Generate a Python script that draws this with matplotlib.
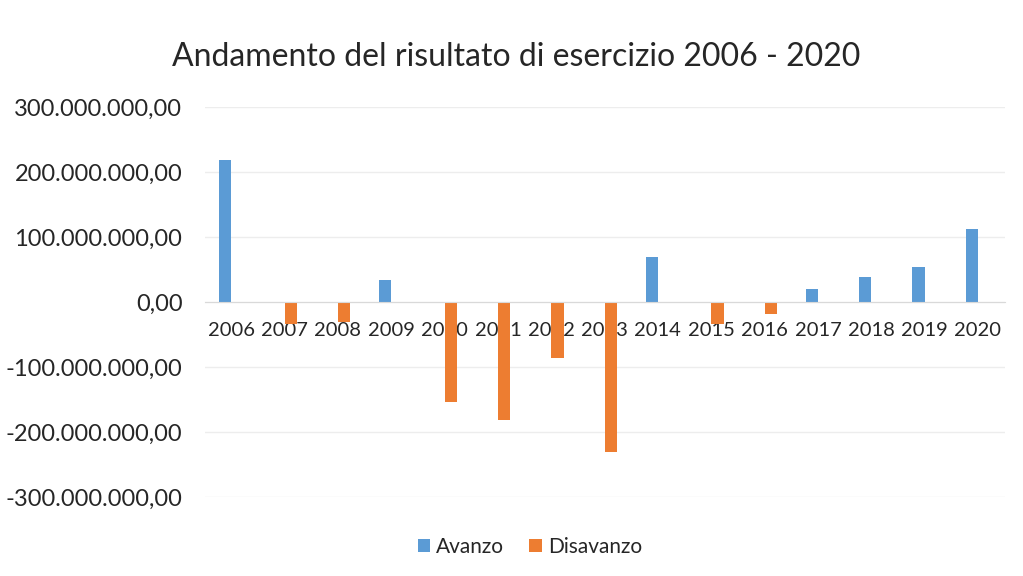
import numpy as np
import matplotlib.pyplot as plt
from matplotlib.ticker import FuncFormatter

anni = ['2006', '2007', '2008', '2009', '2010', '2011', '2012', '2013',
        '2014', '2015', '2016', '2017', '2018', '2019', '2020']
# valori in euro
avanzo = [219e6, 0, 0, 34e6, 0, 0, 0, 0, 70e6, 0, 0, 20e6, 38e6, 54e6, 112e6]
disavanzo = [0, -34e6, -31e6, 0, -153e6, -181e6, -86e6, -231e6, 0, -34e6, -18e6, 0, 0, 0, 0]

plt.rcParams['font.family'] = ['Lato', 'DejaVu Sans']

def formato_it(v, pos):
    s = '{:,.2f}'.format(v)
    return s.replace(',', 'X').replace('.', ',').replace('X', '.')

fig = plt.figure(figsize=(10.23, 5.76), dpi=100)
ax = fig.add_axes([0.2, 0.137, 0.782, 0.677])

x = np.arange(len(anni))
w = 0.23
ax.bar(x - w / 2, avanzo, w, color='#5B9BD5', label='Avanzo', zorder=2)
ax.bar(x + w / 2, disavanzo, w, color='#ED7D31', label='Disavanzo', zorder=2)

ax.set_xlim(-0.5, len(anni) - 0.5)
ax.set_ylim(-300e6, 300e6)
ax.set_yticks(np.arange(-300e6, 301e6, 100e6))
ax.yaxis.set_major_formatter(FuncFormatter(formato_it))
ax.set_xticks(x)
ax.set_xticklabels(anni)

for s in ['top', 'right', 'left']:
    ax.spines[s].set_visible(False)
ax.spines['bottom'].set_position(('data', 0))
ax.spines['bottom'].set_color('#D9D9D9')
ax.tick_params(axis='both', length=0, colors='#262626')
ax.tick_params(axis='x', pad=14, labelsize=14.5)
ax.tick_params(axis='y', pad=16, labelsize=17)
ax.grid(axis='y', color='#EDEDED', linewidth=1)
ax.set_axisbelow(True)

fig.text(0.505, 0.901, 'Andamento del risultato di esercizio 2006 - 2020',
         ha='center', va='center', fontsize=23, color='#262626')
fig.legend(loc='center', bbox_to_anchor=(0.518, 0.05), ncol=2, frameon=False,
           fontsize=15, handlelength=0.6, handleheight=0.6, handletextpad=0.3,
           columnspacing=1.2, labelcolor='#262626')

plt.savefig('out.png', dpi=100)
